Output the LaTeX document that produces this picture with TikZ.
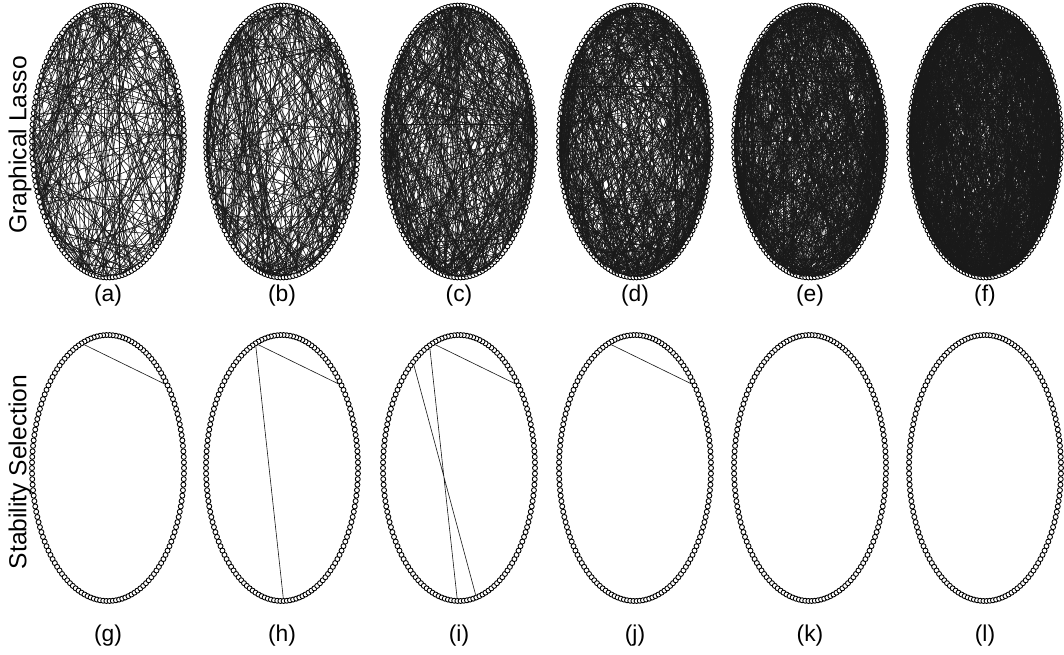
\documentclass[tikz,border=0pt]{standalone}
\usepackage{fontspec}
\setmainfont{Liberation Sans}
\usetikzlibrary{positioning}

\begin{document}
\begin{tikzpicture}[x=0.02cm, y=0.02cm,
  vtx/.style={draw, circle, inner sep=0pt, minimum size=0.1cm, line width=0.5pt, fill=white},
  edge/.style={line width=0.35pt, black!90},
  sublabel/.style={font=\fontsize{13}{15}\selectfont},
  rowlabel/.style={font=\fontsize{14}{16}\selectfont, rotate=90}
]
  \useasboundingbox (0,0) rectangle (1064,654);
  \pgfmathsetseed{7}

  % row labels
  \node[rowlabel] (glasso) at (20,509) {Graphical Lasso};
  \node[rowlabel] (stabsel) at (20,182) {Stability Selection};

  % top row: dense random graphs
  \foreach \p/\cx/\m in {a/108/300, b/282/380, c/459/550, d/635/750, e/810/1000, f/985/1500}{
    \foreach \k in {1,...,150}
      \node[vtx] (\p-\k) at ({\cx+76*cos(2.4*\k)}, {512.5+136*sin(2.4*\k)}) {};
    \foreach \e in {1,...,\m}{
      \pgfmathrandominteger{\u}{1}{150}
      \pgfmathrandominteger{\r}{1}{149}
      \pgfmathtruncatemacro{\v}{mod(\u+\r-1,150)+1}
      \draw[edge] (\p-\u) -- (\p-\v);
    }
    \node[sublabel] (lab-\p) at (\cx,358) {(\p)};
  }

  % bottom row: selected edges only
  \foreach \p/\cx in {g/108, h/282, i/459, j/635, k/810, l/985}{
    \foreach \k in {1,...,150}
      \node[vtx] (\p-\k) at ({\cx+76*cos(2.4*\k)}, {186+133*sin(2.4*\k)}) {};
    \node[sublabel] (lab-\p) at (\cx,18) {(\p)};
  }
  \draw[edge] (g-46) -- (g-16);
  \draw[edge] (h-46) -- (h-16) (h-46) -- (h-113);
  \draw[edge] (i-46) -- (i-16) (i-47) -- (i-112) (i-53) -- (i-118);
  \draw[edge] (j-46) -- (j-16);
\end{tikzpicture}
\end{document}
